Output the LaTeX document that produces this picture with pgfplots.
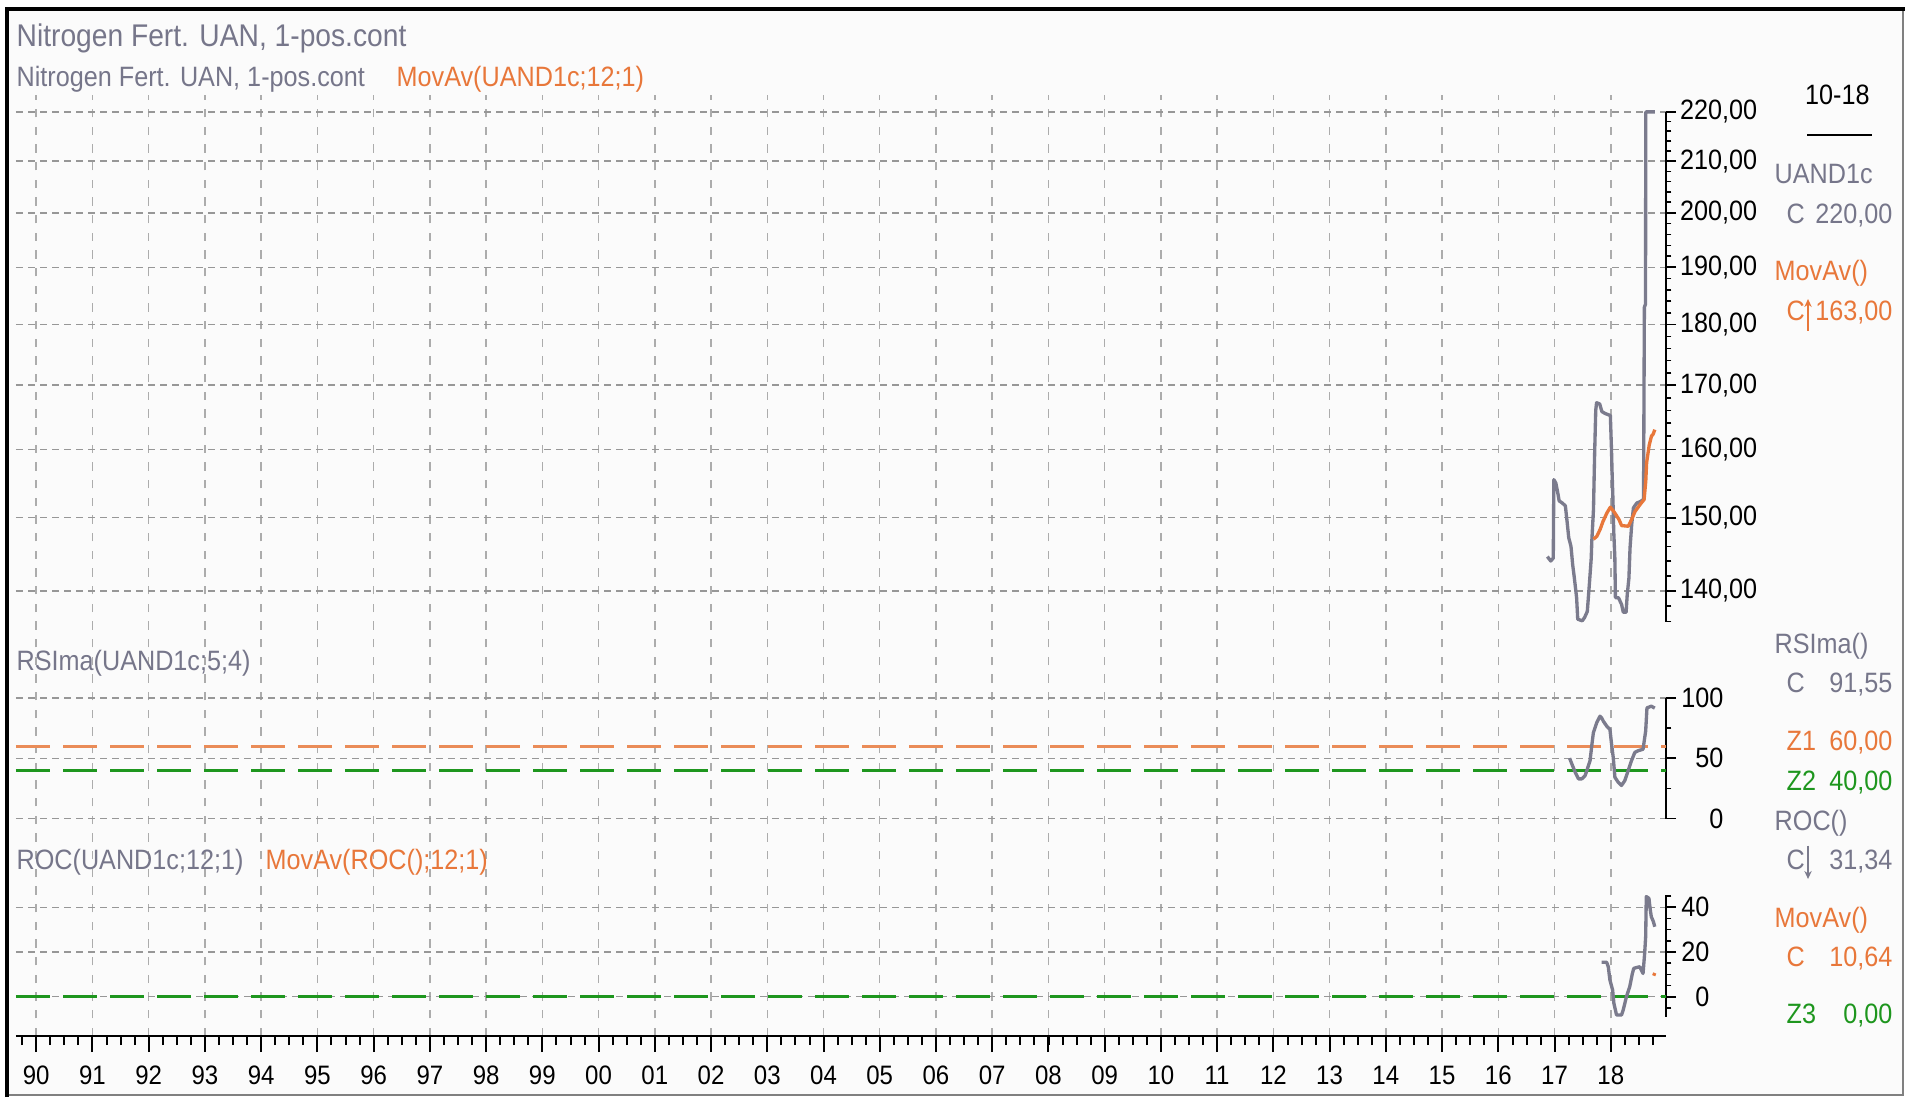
\documentclass[border=0pt]{standalone}
\usepackage{pgfplots}
\pgfplotsset{compat=1.18}
\usetikzlibrary{arrows.meta}
\usepackage{fontspec}
\setmainfont{Liberation Sans}[FakeStretch=0.9]

\definecolor{uan}{HTML}{7B7B8D}
\definecolor{uantext}{HTML}{76768A}
\definecolor{mavg}{HTML}{E8773A}
\definecolor{zoneor}{HTML}{EA8C58}
\definecolor{zonegr}{HTML}{1E961E}
\definecolor{gridgray}{HTML}{979797}
\definecolor{paper}{HTML}{FBFBFB}

\newcommand{\lab}{\fontsize{8.4}{10}\selectfont}

\pgfplotsset{
  panel/.style={
    scale only axis, width=495pt,
    xmin=1989.64, xmax=2018.98,
    axis x line=none, axis y line*=right,
    y axis line style={-, line width=0.6pt, black},
    tick align=outside,
    major tick length=3pt, minor tick length=1.6pt,
    every tick/.style={black, line width=0.5pt},
    ymajorgrids,
    major grid style={gridgray, line width=0.45pt, dash pattern=on 2.1pt off 1.5pt},
    yticklabel style={font=\lab, inner sep=1pt, anchor=west, text=black},
    clip=false,
  },
  series/.style={uan, line width=1pt, line join=round},
  mov/.style={mavg, line width=1pt, line join=round},
  zoneline/.style={line width=0.8pt, dash pattern=on 10.3pt off 3.8pt},
}

\begin{document}
\begin{tikzpicture}
\useasboundingbox (0,0) rectangle (571.5pt,329.1pt);
\fill[white] (0,0) rectangle (571.5pt,329.1pt);
\fill[paper] (2.1pt,0.6pt) rectangle (570.9pt,326.4pt);
\draw[gray, line width=0.45pt] (2.1pt,0.6pt) -- (570.9pt,0.6pt) -- (570.9pt,326.4pt);
\draw[black, line width=1.2pt] (2.1pt,0) -- (2.1pt,326.4pt) -- (571.5pt,326.4pt);

% time axis with the vertical grid
\begin{axis}[
  scale only axis, width=495pt, height=282.3pt,
  at={(4.8pt,18.3pt)}, anchor=south west,
  xmin=1989.64, xmax=2018.98, ymin=0, ymax=1,
  axis x line*=bottom, axis y line=none,
  x axis line style={-, line width=0.8pt, black},
  xtick={1990,...,2018},
  xticklabels={90,91,92,93,94,95,96,97,98,99,00,01,02,03,04,05,06,07,08,09,10,11,12,13,14,15,16,17,18},
  minor xtick={1989.75,1990,...,2018.75},
  tick align=outside,
  major tick length=4.8pt, minor tick length=2.7pt,
  every tick/.style={black, line width=0.6pt},
  xticklabel style={font=\fontsize{8}{10}\selectfont, inner sep=0pt, yshift=-4pt, text=black},
  xmajorgrids,
  major grid style={gridgray!80, line width=0.45pt, dash pattern=on 2.5pt off 2.8pt},
]
\end{axis}

% price panel
\begin{axis}[panel, at={(4.8pt,142.62pt)}, anchor=south west, height=152.88pt,
  ymode=log, ymin=136, ymax=220,
  ytick={140,150,160,170,180,190,200,210,220},
  yticklabels={{140,00},{150,00},{160,00},{170,00},{180,00},{190,00},{200,00},{210,00},{220,00}},
  minor ytick={136,138,140,142,144,146,148,150,152,154,156,158,160,162,164,166,168,170,172,174,176,178,180,182,184,186,188,190,192,194,196,198,200,202,204,206,208,210,212,214,216,218},
]
\addplot[series] coordinates {
  (2016.87,144.6) (2016.93,144.0) (2016.975,144.4) (2016.985,155.5)
  (2017.02,155.0) (2017.05,153.8) (2017.08,152.4) (2017.135,152.1)
  (2017.19,151.7) (2017.22,149.5) (2017.25,147.2) (2017.29,146.0)
  (2017.32,143.5) (2017.35,141.7) (2017.39,139.1) (2017.41,136.3)
  (2017.49,136.1) (2017.53,136.5) (2017.58,137.3) (2017.62,141.2)
  (2017.65,144.4) (2017.66,146.7) (2017.69,151.2) (2017.71,159.2)
  (2017.73,166.0) (2017.745,167.2) (2017.80,167.0) (2017.84,165.8)
  (2017.90,165.5) (2017.99,165.2) (2018.01,160.0) (2018.02,156.7)
  (2018.035,152.9) (2018.05,148.1) (2018.07,144.4) (2018.08,139.1)
  (2018.135,139.1) (2018.19,138.2) (2018.22,137.2) (2018.27,137.2)
  (2018.29,139.5) (2018.32,141.7) (2018.34,145.8) (2018.37,149.1)
  (2018.40,151.4) (2018.46,152.1) (2018.52,152.3) (2018.58,152.6)
  (2018.595,183.0) (2018.615,183.5) (2018.62,220.0) (2018.78,220.0)
};
\addplot[mov] coordinates {
  (2017.69,147.0) (2017.75,147.4) (2017.81,148.4) (2017.86,149.5)
  (2017.93,150.7) (2017.99,151.5) (2018.05,150.9) (2018.14,149.8)
  (2018.19,148.9) (2018.31,148.8) (2018.37,149.8) (2018.43,150.9)
  (2018.52,151.9) (2018.59,152.6) (2018.62,155.3) (2018.635,158.0)
  (2018.68,160.6) (2018.72,162.0) (2018.75,162.3) (2018.78,163.0)
};
\end{axis}

% RSI panel
\begin{axis}[panel, at={(4.8pt,83.55pt)}, anchor=south west, height=36.15pt,
  ymin=0, ymax=100, ytick={0,50,100}, yticklabels={0,50,100},
  minor ytick={25,75},
  yticklabel style={text width=13pt, align=right},
]
\addplot[zoneline, zoneor] coordinates {(1989.64,60) (2018.98,60)};
\addplot[zoneline, zonegr] coordinates {(1989.64,40) (2018.98,40)};
\addplot[series] coordinates {
  (2017.265,50.1) (2017.306,45.2) (2017.365,38.4) (2017.424,32.9)
  (2017.482,32.9) (2017.541,35.6) (2017.571,39.7) (2017.629,48.0)
  (2017.659,60.3) (2017.688,71.2) (2017.747,79.5) (2017.806,84.9)
  (2017.835,83.5) (2017.865,80.8) (2017.924,76.7) (2017.982,74.0)
  (2018.012,61.6) (2018.041,50.7) (2018.071,34.2) (2018.129,30.1)
  (2018.188,27.4) (2018.247,31.5) (2018.306,39.7) (2018.365,47.9)
  (2018.424,54.8) (2018.482,56.2) (2018.571,57.5) (2018.618,72.6)
  (2018.641,91.8) (2018.718,93.2) (2018.78,91.6)
};
\end{axis}

% ROC panel
\begin{axis}[panel, at={(4.8pt,24.06pt)}, anchor=south west, height=36.54pt,
  ymin=-9, ymax=45.5, ytick={0,20,40}, yticklabels={0,20,40},
  minor ytick={-5,5,10,15,25,30,35,45},
  yticklabel style={text width=8.8pt, align=right},
]
\addplot[zoneline, zonegr] coordinates {(1989.64,0) (2018.98,0)};
\addplot[series] coordinates {
  (2017.835,15.4) (2017.924,15.4) (2017.953,13.4) (2017.982,7.5)
  (2018.03,3.0) (2018.053,-3.0) (2018.10,-8.2) (2018.188,-8.2)
  (2018.218,-6.0) (2018.276,0.0) (2018.335,4.5) (2018.382,10.4)
  (2018.406,12.7) (2018.512,13.4) (2018.571,10.4) (2018.60,19.4)
  (2018.618,26.9) (2018.629,44.8) (2018.676,44.0) (2018.70,38.8)
  (2018.718,35.8) (2018.755,33.6) (2018.78,31.3)
};
\addplot[mov] coordinates {(2018.76,9.4) (2018.78,10.6)};
\end{axis}

% panel titles
\begin{scope}[every node/.style={inner sep=0pt, font=\lab}]
\node[anchor=base west, text=uantext, font=\fontsize{9.4}{11}\selectfont] at (4.8pt,315.0pt) {Nitrogen Fert. UAN, 1-pos.cont};
\node[anchor=base west, text=uantext] at (4.8pt,303.0pt) {Nitrogen Fert. UAN, 1-pos.cont};
\node[anchor=base west, text=mavg] at (118.8pt,303.0pt) {MovAv(UAND1c;12;1)};
\node[anchor=base west, text=uantext] at (4.8pt,127.8pt) {RSIma(UAND1c;5;4)};
\node[anchor=base west, text=uantext] at (4.8pt,68.4pt) {ROC(UAND1c;12;1)};
\node[anchor=base west, text=mavg] at (79.5pt,68.4pt) {MovAv(ROC();12;1)};

% value column
\node[anchor=base, text=black] at (551.2pt,297.6pt) {10-18};
\draw[black, line width=0.6pt] (542.1pt,288.6pt) -- (561.6pt,288.6pt);
\node[anchor=base west, text=uantext] at (532.2pt,273.9pt) {UAND1c};
\node[anchor=base west, text=uantext] at (535.8pt,261.9pt) {C};
\node[anchor=base east, text=uantext] at (567.9pt,261.9pt) {220,00};
\node[anchor=base west, text=mavg] at (532.2pt,244.8pt) {MovAv()};
\node[anchor=base west, text=mavg] at (535.8pt,232.8pt) {C};
\draw[mavg, line width=0.6pt, -{Stealth[length=2.4pt,width=2.2pt]}] (542.4pt,229.8pt) -- (542.4pt,239.4pt);
\node[anchor=base east, text=mavg] at (567.9pt,232.8pt) {163,00};
\node[anchor=base west, text=uantext] at (532.2pt,132.9pt) {RSIma()};
\node[anchor=base west, text=uantext] at (535.8pt,121.2pt) {C};
\node[anchor=base east, text=uantext] at (567.9pt,121.2pt) {91,55};
\node[anchor=base west, text=mavg] at (535.8pt,104.1pt) {Z1};
\node[anchor=base east, text=mavg] at (567.9pt,104.1pt) {60,00};
\node[anchor=base west, text=zonegr] at (535.8pt,92.1pt) {Z2};
\node[anchor=base east, text=zonegr] at (567.9pt,92.1pt) {40,00};
\node[anchor=base west, text=uantext] at (532.2pt,80.1pt) {ROC()};
\node[anchor=base west, text=uantext] at (535.8pt,68.4pt) {C};
\draw[uan, line width=0.6pt, -{Stealth[length=2.4pt,width=2.2pt]}] (542.4pt,75.4pt) -- (542.4pt,65.4pt);
\node[anchor=base east, text=uantext] at (567.9pt,68.4pt) {31,34};
\node[anchor=base west, text=mavg] at (532.2pt,51.0pt) {MovAv()};
\node[anchor=base west, text=mavg] at (535.8pt,39.3pt) {C};
\node[anchor=base east, text=mavg] at (567.9pt,39.3pt) {10,64};
\node[anchor=base west, text=zonegr] at (535.8pt,22.2pt) {Z3};
\node[anchor=base east, text=zonegr] at (567.9pt,22.2pt) {0,00};
\end{scope}
\end{tikzpicture}
\end{document}
